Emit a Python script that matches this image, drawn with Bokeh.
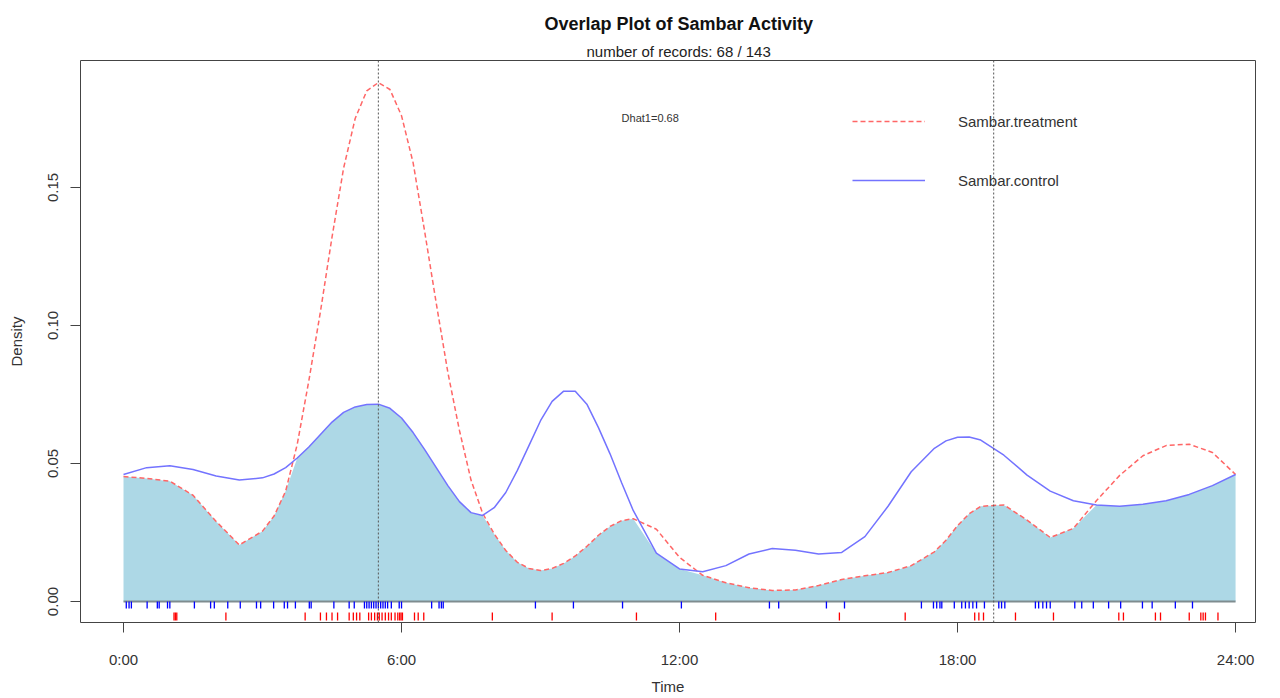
import numpy as np
from bokeh.plotting import figure
from bokeh.models import (FixedTicker, Span, Label, Title, Legend, LegendItem,
                          Range1d, CustomJSTickFormatter)
from bokeh.embed import file_html
from bokeh.resources import INLINE

# ---------------- data ----------------
hours = [0.0, 0.5, 1.0, 1.5, 2.0, 2.5, 3.0,
         3.25, 3.5, 3.75, 4.0, 4.25, 4.5, 4.75, 5.0, 5.25, 5.5, 5.75, 6.0,
         6.25, 6.5, 6.75, 7.0, 7.25, 7.5, 7.75, 8.0,
         8.25, 8.5, 8.75, 9.0, 9.25, 9.5, 9.75, 10.0, 10.25, 10.5, 10.75, 11.0,
         11.5, 12.0, 12.5, 13.0, 13.5, 14.0, 14.5, 15.0, 15.5, 16.0, 16.5,
         17.0, 17.5,
         17.75, 18.0, 18.25, 18.5,
         19.0, 19.5, 20.0, 20.5, 21.0, 21.5, 22.0, 22.5, 23.0, 23.5, 24.0]

treatment_density = [0.0453, 0.0446, 0.0436, 0.0385, 0.0290, 0.0205, 0.0255,
                     0.0310, 0.0400, 0.0570, 0.0800, 0.1050, 0.1320, 0.1570,
                     0.1750, 0.1850, 0.1880, 0.1855, 0.1760, 0.1590, 0.1340,
                     0.1080, 0.0830, 0.0620, 0.0440, 0.0320, 0.0245,
                     0.0185, 0.0142, 0.0120, 0.0112, 0.0120, 0.0138, 0.0165,
                     0.0200, 0.0240, 0.0272, 0.0293, 0.0300,
                     0.0262, 0.0160, 0.0095, 0.0068, 0.0050, 0.0040, 0.0042,
                     0.0058, 0.0080, 0.0093, 0.0105, 0.0130, 0.0180,
                     0.0222, 0.0275, 0.0318, 0.0345,
                     0.0350, 0.0295, 0.0232, 0.0265, 0.0366, 0.0457, 0.0528,
                     0.0565, 0.0570, 0.0540, 0.0460]

control_density = [0.0460, 0.0485, 0.0492, 0.0478, 0.0455, 0.0440, 0.0448,
                   0.0462, 0.0485, 0.0520, 0.0560, 0.0605, 0.0650, 0.0685,
                   0.0705, 0.0714, 0.0715, 0.0700, 0.0665, 0.0612, 0.0550,
                   0.0485, 0.0420, 0.0362, 0.0322, 0.0312, 0.0340,
                   0.0395, 0.0475, 0.0565, 0.0655, 0.0725, 0.0762, 0.0762,
                   0.0715, 0.0630, 0.0535, 0.0430, 0.0330,
                   0.0175, 0.0118, 0.0108, 0.0130, 0.0172, 0.0192, 0.0186,
                   0.0172, 0.0178, 0.0235, 0.0345, 0.0470, 0.0555,
                   0.0582, 0.0595, 0.0596, 0.0585,
                   0.0530, 0.0458, 0.0400, 0.0365, 0.0350, 0.0345, 0.0352,
                   0.0365, 0.0388, 0.0420, 0.0460]

treatment_times = [1.09, 1.12, 1.15, 2.21, 3.92, 4.25, 4.38, 4.50, 4.62, 4.87,
                   4.96, 5.03, 5.10, 5.29, 5.35, 5.42, 5.48, 5.52, 5.58, 5.65,
                   5.72, 5.78, 5.86, 5.92, 5.96, 5.99, 6.02, 6.28, 6.36, 6.48,
                   7.96, 9.25, 11.07, 12.78, 15.45, 16.87, 18.37, 18.46, 18.56,
                   19.25, 20.07, 21.48, 21.58, 22.27, 22.38, 23.00, 23.25,
                   23.30, 23.35, 23.62]

control_times = [0.06, 0.12, 0.17, 0.51, 0.73, 0.77, 0.95, 1.00, 1.53, 1.88,
                 1.96, 2.25, 2.52, 2.87, 2.96, 3.24, 3.47, 3.54, 3.71, 4.01,
                 4.05, 4.54, 4.87, 4.98, 5.20, 5.25, 5.30, 5.35, 5.40, 5.45,
                 5.50, 5.55, 5.60, 5.65, 5.70, 5.78, 5.95, 6.00, 6.65, 6.81,
                 6.86, 6.90, 8.89, 9.71, 10.77, 12.04, 13.94, 14.14, 15.17,
                 15.56, 17.22, 17.48, 17.55, 17.62, 17.66, 17.93, 18.09, 18.17,
                 18.25, 18.33, 18.41, 18.58, 18.89, 18.95, 19.02, 19.68, 19.75,
                 19.84, 19.92, 20.00, 20.53, 20.68, 20.93, 21.26, 21.52, 21.99,
                 22.20, 22.70, 23.07]

sun_times = [5.5, 18.78]

x_ticks = [0, 6, 12, 18, 24]
x_tick_labels = ["0:00", "6:00", "12:00", "18:00", "24:00"]
y_ticks = [0.0, 0.05, 0.10, 0.15]
y_tick_labels = ["0.00", "0.05", "0.10", "0.15"]

series_names = ["Sambar.treatment", "Sambar.control"]
n_treatment = 68
n_control = 143
dhat1 = 0.68

# ---------------- figure ----------------
FONT = "Liberation Sans"
overlap = np.minimum(np.array(treatment_density), np.array(control_density)).tolist()

p = figure(frame_width=1175, frame_height=562,
           x_range=Range1d(-0.928, 24.43), y_range=Range1d(-0.0076, 0.196),
           output_backend="svg", toolbar_location=None, title=None,
           min_border_left=80, min_border_right=24, min_border_top=60,
           min_border_bottom=75, background_fill_color="white",
           border_fill_color="white")

p.xgrid.visible = False
p.ygrid.visible = False
p.outline_line_color = "#444444"
p.outline_line_width = 1

fmt_code = """
let best = 0;
for (let i = 0; i < tvals.length; i++) {
  if (Math.abs(tvals[i] - tick) < Math.abs(tvals[best] - tick)) best = i;
}
return tlabels[best];
"""

p.xaxis.ticker = FixedTicker(ticks=x_ticks)
p.xaxis.formatter = CustomJSTickFormatter(args=dict(tvals=x_ticks, tlabels=x_tick_labels), code=fmt_code)
p.yaxis.ticker = FixedTicker(ticks=y_ticks)
p.yaxis.formatter = CustomJSTickFormatter(args=dict(tvals=y_ticks, tlabels=y_tick_labels), code=fmt_code)
p.xaxis.bounds = (x_ticks[0], x_ticks[-1])
p.yaxis.bounds = (y_ticks[0], y_ticks[-1])
p.yaxis.major_label_orientation = "vertical"

for ax in (p.xaxis, p.yaxis):
    ax.axis_line_color = "#444444"
    ax.major_tick_line_color = "#444444"
    ax.major_tick_out = 10
    ax.major_tick_in = 0
    ax.minor_tick_line_color = None
    ax.major_label_text_font = FONT
    ax.major_label_text_font_size = "15px"
    ax.major_label_text_color = "#333333"
    ax.axis_label_text_font = FONT
    ax.axis_label_text_font_size = "15px"
    ax.axis_label_text_font_style = "normal"
    ax.axis_label_text_color = "#333333"

p.xaxis.axis_label = "Time"
p.yaxis.axis_label = "Density"
p.xaxis.major_label_standoff = 18
p.xaxis.axis_label_standoff = 7
p.yaxis.major_label_standoff = 12
p.yaxis.axis_label_standoff = 21

# shaded overlap
p.varea(x=hours, y1=0, y2=overlap, fill_color="#ADD8E6", fill_alpha=1.0)
p.line(x=[hours[0], hours[-1]], y=[0, 0], line_color="#7f8c8f", line_width=2)

# rugs
p.segment(x0=control_times, y0=0.0, x1=control_times, y1=-0.0025,
          line_color="#0000FF", line_width=1.3)
p.segment(x0=treatment_times, y0=-0.0040, x1=treatment_times, y1=-0.0069,
          line_color="#FF0000", line_width=1.3)

# density curves
r_t = p.line(x=hours, y=treatment_density, line_color="#FF6666", line_width=1.5,
             line_dash="5 3")
r_c = p.line(x=hours, y=control_density, line_color="#7373FF", line_width=1.5)

# sunrise / sunset
for t in sun_times:
    p.add_layout(Span(location=t, dimension="height", line_color="#555555",
                      line_dash="2 2", line_width=1))

# Dhat label
p.add_layout(Label(x=10.75, y=0.175, text=f"Dhat1={dhat1:.2f}",
                   text_font=FONT, text_font_size="11px", text_color="#333333",
                   text_baseline="middle", text_align="left"))

legend = Legend(items=[LegendItem(label=series_names[0], renderers=[r_t]),
                       LegendItem(label=series_names[1], renderers=[r_c])],
                location=(772, 432), glyph_width=73, glyph_height=20,
                label_height=20, spacing=39, label_standoff=33, padding=0,
                margin=0, border_line_color=None, background_fill_alpha=0,
                label_text_font=FONT, label_text_font_size="15px",
                label_text_color="#333333")
p.add_layout(legend)

p.add_layout(Title(text=f"number of records: {n_treatment} / {n_control}",
                   align="left", offset=506, text_font=FONT,
                   text_font_size="15px", text_font_style="normal",
                   text_color="#222222", standoff=2), "above")
p.add_layout(Title(text="Overlap Plot of Sambar Activity", align="left",
                   offset=464, text_font=FONT, text_font_size="18px",
                   text_font_style="bold", text_color="#111111",
                   standoff=12), "above")

open("out.html", "w").write(file_html(p, INLINE))
